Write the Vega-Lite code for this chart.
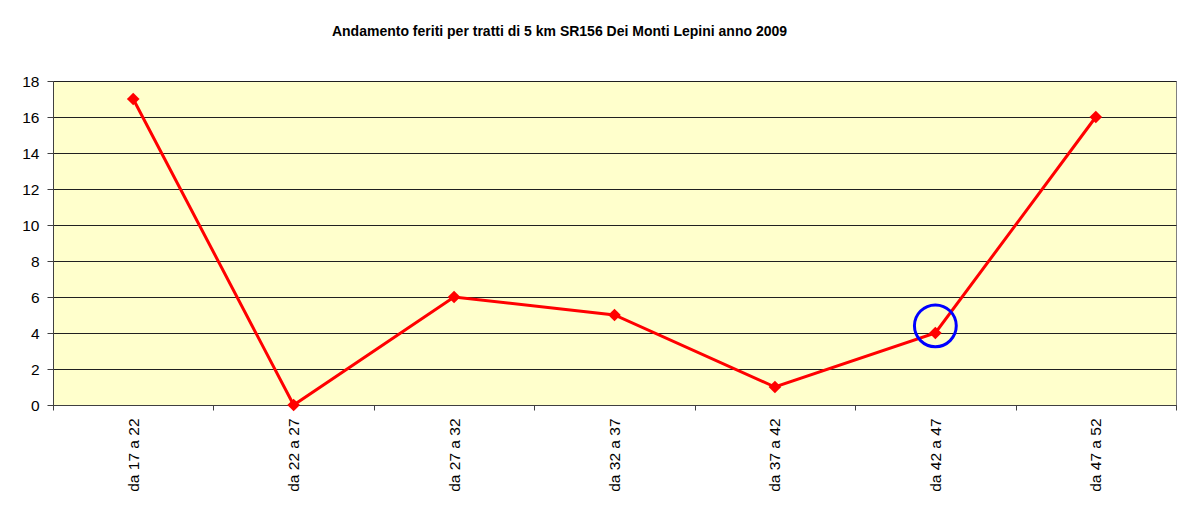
{
  "$schema": "https://vega.github.io/schema/vega-lite/v6.json",
  "autosize": {"type": "none"},
  "width": 1123,
  "height": 324,
  "padding": {"left": 53, "top": 81, "right": 9, "bottom": 101},
  "background": "white",
  "title": {
    "text": "Andamento feriti per tratti di 5 km SR156 Dei Monti Lepini anno 2009",
    "font": "Liberation Sans",
    "fontSize": 14,
    "fontWeight": "bold",
    "color": "black",
    "anchor": "middle",
    "dx": -55,
    "offset": 35
  },
  "datasets": {
    "feriti": [
      {"tratto": "da 17 a 22", "feriti": 17},
      {"tratto": "da 22 a 27", "feriti": 0},
      {"tratto": "da 27 a 32", "feriti": 6},
      {"tratto": "da 32 a 37", "feriti": 5},
      {"tratto": "da 37 a 42", "feriti": 1},
      {"tratto": "da 42 a 47", "feriti": 4},
      {"tratto": "da 47 a 52", "feriti": 16}
    ],
    "cerchio": [
      {"tratto": "da 42 a 47", "feriti": 4.4}
    ]
  },
  "config": {
    "view": {"fill": "#FFFFCC", "stroke": "#808080", "strokeWidth": 1},
    "axis": {
      "labelFont": "Liberation Sans",
      "labelColor": "black",
      "domainColor": "#404040",
      "tickColor": "#404040",
      "title": null
    }
  },
  "encoding": {
    "x": {
      "field": "tratto",
      "type": "ordinal",
      "sort": null,
      "scale": {"type": "band", "paddingInner": 0, "paddingOuter": 0},
      "axis": {
        "labelAngle": -90,
        "labelAlign": "right",
        "labelBaseline": "middle",
        "labelFontSize": 15.5,
        "labelPadding": 8,
        "labelOverlap": false,
        "tickBand": "extent",
        "tickSize": 5,
        "grid": false
      }
    },
    "y": {
      "field": "feriti",
      "type": "quantitative",
      "scale": {"domain": [0, 18], "nice": false},
      "axis": {
        "values": [0, 2, 4, 6, 8, 10, 12, 14, 16, 18],
        "tickCount": 20,
        "labelOverlap": false,
        "labelFontSize": 15.5,
        "labelPadding": 8,
        "tickSize": 6,
        "grid": true,
        "gridColor": "#202020",
        "gridOpacity": 1,
        "gridWidth": 1
      }
    }
  },
  "layer": [
    {
      "data": {"name": "feriti"},
      "mark": {"type": "line", "color": "#FF0000", "strokeWidth": 3}
    },
    {
      "data": {"name": "feriti"},
      "mark": {"type": "point", "shape": "diamond", "filled": true, "color": "#FF0000", "size": 160, "opacity": 1}
    },
    {
      "data": {"name": "cerchio"},
      "mark": {"type": "point", "shape": "circle", "filled": false, "stroke": "#0000FF", "strokeWidth": 3, "size": 1750, "opacity": 1}
    }
  ]
}
